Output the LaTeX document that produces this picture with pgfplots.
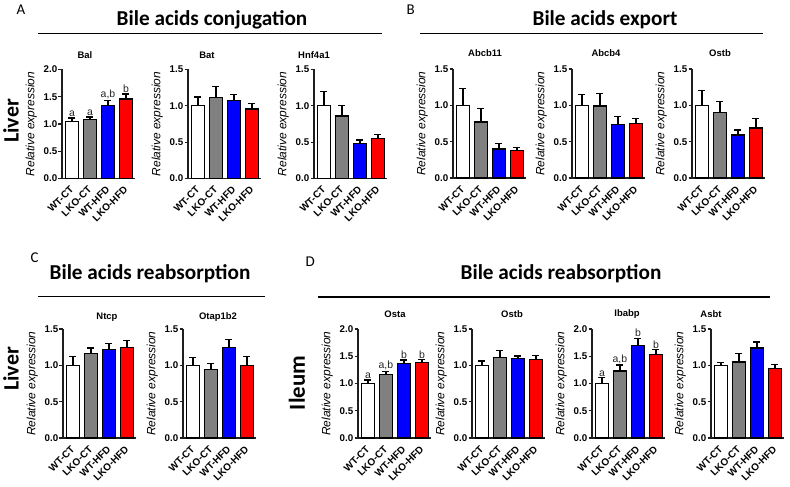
\documentclass[border=0pt]{standalone}
\usepackage{fontspec}
\setmainfont{Liberation Sans}
\newfontfamily\calfont{Carlito}
\usepackage{pgfplots}
\pgfplotsset{compat=1.18}
\definecolor{grayc}{RGB}{128,128,128}
\definecolor{bluec}{RGB}{0,0,255}
\definecolor{redc}{RGB}{255,0,0}
\definecolor{axc}{RGB}{30,30,30}
\pgfplotsset{
 prism/.style={
  scale only axis, width=73bp, height=109bp,
  xmin=-0.55, xmax=3.5, ymin=0,
  axis lines*=left,
  axis line style={-, line width=1.2bp, axc},
  clip=false,
  xtick={0,1,2,3},
  xticklabels={WT-CT,LKO-CT,WT-HFD,LKO-HFD},
  x tick style={draw=none},
  y tick style={line width=1.1bp, axc},
  tick align=outside,
  major tick length=3.5bp,
  /pgf/number format/assume math mode=true,
  yticklabel style={font=\bfseries\fontsize{9.8}{9.8}\selectfont, inner sep=1bp, /pgf/number format/.cd, fixed, fixed zerofill, precision=1},
  xticklabel style={font=\bfseries\fontsize{10}{10}\selectfont, rotate=45, anchor=east, inner sep=0pt},
  xticklabel shift=6bp,
  ylabel={Relative expression},
  ylabel style={font=\itshape\fontsize{12}{12}\selectfont, at={(axis description cs:-0.42,0.5)}, anchor=center},
 },
 y2/.style={prism, ymax=2, ytick={0,0.5,1,1.5,2}},
 y15/.style={prism, ymax=1.5, ytick={0,0.5,1,1.5}},
 bx/.style={ybar, bar width=13.5bp, bar shift=0pt, draw=black, line width=1.3bp,
   error bars/y dir=plus, error bars/y explicit,
   error bars/error bar style={line width=1.3bp, black},
   error bars/error mark options={rotate=90, mark size=3.5bp, line width=1.3bp, black}},
 lett/.style={draw=none, mark=none, nodes near coords, point meta=explicit symbolic,
   every node near coord/.append style={font=\fontsize{10.5}{10.5}\selectfont, anchor=south, inner sep=1.2bp, text=black!85}},
}
\begin{document}
\begin{tikzpicture}
\path[use as bounding box] (0,0) rectangle (790bp,487bp);

% ---------- headings ----------
\node[anchor=base west, font=\calfont\fontsize{15}{15}\selectfont] at (13bp,472bp) {A};
\node[anchor=base west, font=\calfont\fontsize{15}{15}\selectfont] at (403bp,472bp) {B};
\node[anchor=base west, font=\calfont\fontsize{15}{15}\selectfont] at (27bp,224bp) {C};
\node[anchor=base west, font=\calfont\fontsize{15}{15}\selectfont] at (302bp,220bp) {D};

\node[anchor=base, font=\calfont\bfseries\fontsize{21.3}{21.3}\selectfont] at (212bp,461bp) {Bile acids conjugation};
\node[anchor=base, font=\calfont\bfseries\fontsize{21.3}{21.3}\selectfont] at (605bp,461bp) {Bile acids export};
\node[anchor=base, font=\calfont\bfseries\fontsize{21.3}{21.3}\selectfont] at (150bp,207.7bp) {Bile acids reabsorption};
\node[anchor=base, font=\calfont\bfseries\fontsize{21.3}{21.3}\selectfont] at (561bp,207.7bp) {Bile acids reabsorption};

\draw[line width=1.5bp] (38bp,453.7bp) -- (382bp,453.7bp);
\draw[line width=1.5bp] (420bp,453.7bp) -- (763bp,453.7bp);
\draw[line width=1.5bp] (38bp,190.3bp) -- (265bp,190.3bp);
\draw[line width=1.5bp] (318bp,190bp) -- (770bp,190bp);

\node[rotate=90, font=\calfont\bfseries\fontsize{22}{22}\selectfont] at (11bp,366bp) {Liver};
\node[rotate=90, font=\calfont\bfseries\fontsize{22}{22}\selectfont] at (11bp,118bp) {Liver};
\node[rotate=90, font=\calfont\bfseries\fontsize{23}{23}\selectfont] at (297bp,104bp) {Ileum};

\tikzset{sub/.style={font=\bfseries\fontsize{9.5}{9.5}\selectfont}}
\node[sub] at (85bp,432bp) {Bal};
\node[sub] at (207bp,432bp) {Bat};
\node[sub] at (314bp,432bp) {Hnf4a1};
\node[sub] at (485bp,434bp) {Abcb11};
\node[sub] at (606bp,434bp) {Abcb4};
\node[sub] at (720bp,434bp) {Ostb};
\node[sub] at (107bp,170bp) {Ntcp};
\node[sub] at (218bp,170bp) {Otap1b2};
\node[sub] at (395bp,173bp) {Osta};
\node[sub] at (512bp,173bp) {Ostb};
\node[sub] at (627bp,173bp) {Ibabp};
\node[sub] at (711bp,173bp) {Asbt};

% ---------- A ----------
\begin{axis}[y2, at={(62bp,308.5bp)}, anchor=south west]
\addplot[fill=white, bx] coordinates {(0,1.045) +- (0,0.065)};
\addplot[fill=grayc, bx] coordinates {(1,1.077) +- (0,0.05)};
\addplot[fill=bluec, bx] coordinates {(2,1.34) +- (0,0.09)};
\addplot[fill=redc, bx] coordinates {(3,1.46) +- (0,0.09)};
\addplot[lett] coordinates {(0,1.11) [a] (1,1.127) [a] (2,1.43) [{a,b}] (3,1.55) [b]};
\end{axis}
\begin{axis}[y15, at={(188bp,308.5bp)}, anchor=south west]
\addplot[fill=white, bx] coordinates {(0,1.0) +- (0,0.12)};
\addplot[fill=grayc, bx] coordinates {(1,1.11) +- (0,0.16)};
\addplot[fill=bluec, bx] coordinates {(2,1.07) +- (0,0.09)};
\addplot[fill=redc, bx] coordinates {(3,0.955) +- (0,0.075)};
\end{axis}
\begin{axis}[y15, at={(314bp,308.5bp)}, anchor=south west]
\addplot[fill=white, bx] coordinates {(0,1.0) +- (0,0.2)};
\addplot[fill=grayc, bx] coordinates {(1,0.86) +- (0,0.14)};
\addplot[fill=bluec, bx] coordinates {(2,0.48) +- (0,0.05)};
\addplot[fill=redc, bx] coordinates {(3,0.55) +- (0,0.06)};
\end{axis}

% ---------- B ----------
\begin{axis}[y15, at={(453bp,309bp)}, anchor=south west]
\addplot[fill=white, bx] coordinates {(0,1.0) +- (0,0.23)};
\addplot[fill=grayc, bx] coordinates {(1,0.77) +- (0,0.19)};
\addplot[fill=bluec, bx] coordinates {(2,0.40) +- (0,0.07)};
\addplot[fill=redc, bx] coordinates {(3,0.376) +- (0,0.044)};
\end{axis}
\begin{axis}[y15, at={(572bp,309bp)}, anchor=south west]
\addplot[fill=white, bx] coordinates {(0,1.0) +- (0,0.15)};
\addplot[fill=grayc, bx] coordinates {(1,0.99) +- (0,0.17)};
\addplot[fill=bluec, bx] coordinates {(2,0.74) +- (0,0.11)};
\addplot[fill=redc, bx] coordinates {(3,0.75) +- (0,0.07)};
\end{axis}
\begin{axis}[y15, at={(692bp,309bp)}, anchor=south west]
\addplot[fill=white, bx] coordinates {(0,1.0) +- (0,0.20)};
\addplot[fill=grayc, bx] coordinates {(1,0.90) +- (0,0.15)};
\addplot[fill=bluec, bx] coordinates {(2,0.59) +- (0,0.07)};
\addplot[fill=redc, bx] coordinates {(3,0.69) +- (0,0.13)};
\end{axis}

% ---------- C ----------
\begin{axis}[y15, at={(63bp,49bp)}, anchor=south west]
\addplot[fill=white, bx] coordinates {(0,1.0) +- (0,0.12)};
\addplot[fill=grayc, bx] coordinates {(1,1.16) +- (0,0.08)};
\addplot[fill=bluec, bx] coordinates {(2,1.22) +- (0,0.08)};
\addplot[fill=redc, bx] coordinates {(3,1.25) +- (0,0.09)};
\end{axis}
\begin{axis}[y15, at={(183bp,49bp)}, anchor=south west]
\addplot[fill=white, bx] coordinates {(0,1.0) +- (0,0.11)};
\addplot[fill=grayc, bx] coordinates {(1,0.94) +- (0,0.09)};
\addplot[fill=bluec, bx] coordinates {(2,1.25) +- (0,0.11)};
\addplot[fill=redc, bx] coordinates {(3,1.0) +- (0,0.12)};
\end{axis}

% ---------- D ----------
\begin{axis}[y2, at={(358bp,49bp)}, anchor=south west]
\addplot[fill=white, bx] coordinates {(0,1.0) +- (0,0.065)};
\addplot[fill=grayc, bx] coordinates {(1,1.16) +- (0,0.06)};
\addplot[fill=bluec, bx] coordinates {(2,1.37) +- (0,0.06)};
\addplot[fill=redc, bx] coordinates {(3,1.38) +- (0,0.06)};
\addplot[lett] coordinates {(0,1.065) [a] (1,1.22) [{a,b}] (2,1.43) [b] (3,1.44) [b]};
\end{axis}
\begin{axis}[y15, at={(472bp,49bp)}, anchor=south west]
\addplot[fill=white, bx] coordinates {(0,1.0) +- (0,0.06)};
\addplot[fill=grayc, bx] coordinates {(1,1.11) +- (0,0.09)};
\addplot[fill=bluec, bx] coordinates {(2,1.09) +- (0,0.04)};
\addplot[fill=redc, bx] coordinates {(3,1.08) +- (0,0.06)};
\end{axis}
\begin{axis}[y2, at={(592bp,49bp)}, anchor=south west]
\addplot[fill=white, bx] coordinates {(0,1.0) +- (0,0.11)};
\addplot[fill=grayc, bx] coordinates {(1,1.23) +- (0,0.11)};
\addplot[fill=bluec, bx] coordinates {(2,1.70) +- (0,0.13)};
\addplot[fill=redc, bx] coordinates {(3,1.53) +- (0,0.09)};
\addplot[lett] coordinates {(0,1.11) [a] (1,1.34) [{a,b}] (2,1.83) [b] (3,1.62) [b]};
\end{axis}
\begin{axis}[y15, at={(711bp,49bp)}, anchor=south west]
\addplot[fill=white, bx] coordinates {(0,1.0) +- (0,0.04)};
\addplot[fill=grayc, bx] coordinates {(1,1.045) +- (0,0.115)};
\addplot[fill=bluec, bx] coordinates {(2,1.24) +- (0,0.08)};
\addplot[fill=redc, bx] coordinates {(3,0.96) +- (0,0.05)};
\end{axis}
\end{tikzpicture}
\end{document}
